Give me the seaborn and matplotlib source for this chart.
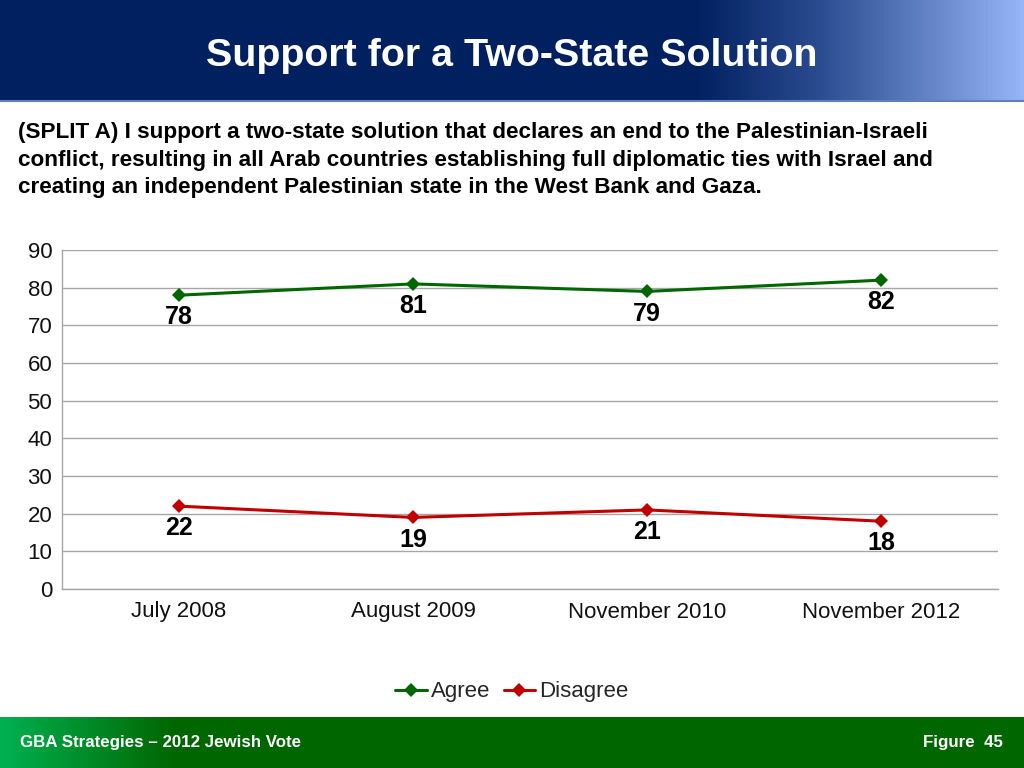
import numpy as np
import pandas as pd
import matplotlib
matplotlib.use("Agg")
import matplotlib.pyplot as plt
import seaborn as sns
from matplotlib.colors import LinearSegmentedColormap

categories = ["July 2008", "August 2009", "November 2010", "November 2012"]
agree = [78, 81, 79, 82]
disagree = [22, 19, 21, 18]
series_names = ["Agree", "Disagree"]
y_ticks = [0, 10, 20, 30, 40, 50, 60, 70, 80, 90]

title = "Support for a Two-State Solution"
subtitle = ("(SPLIT A) I support a two-state solution that declares an end to the Palestinian-Israeli\n"
            "conflict, resulting in all Arab countries establishing full diplomatic ties with Israel and\n"
            "creating an independent Palestinian state in the West Bank and Gaza.")
footer_left = "GBA Strategies \u2013 2012 Jewish Vote"
footer_right = "Figure  45"

df = pd.DataFrame({
    "cat": categories * 2,
    "x": list(range(len(categories))) * 2,
    "value": agree + disagree,
    "series": [series_names[0]] * len(agree) + [series_names[1]] * len(disagree),
})

sns.set_theme(style="white")
plt.rcParams["font.family"] = ["Liberation Sans", "DejaVu Sans"]

fig = plt.figure(figsize=(10.24, 7.68), dpi=100)

# header band with gradient
hdr = fig.add_axes([0, 1 - 100 / 768, 1, 100 / 768])
hdr.set_axis_off()
grad = np.linspace(0, 1, 512)[None, :]
cmap_h = LinearSegmentedColormap.from_list(
    "h", [(0, "#002060"), (0.68, "#002060"), (0.80, "#2a4b8f"), (1.0, "#96b4f8")])
hdr.imshow(grad, aspect="auto", cmap=cmap_h, extent=[0, 1, 0, 1])
hdr.set_xlim(0, 1); hdr.set_ylim(0, 1)
fig.text(0.5, 1 - 56 / 768, title, color="white", fontsize=28.4, fontweight="bold",
         ha="center", va="center")
fig.add_artist(plt.Line2D([0, 1], [1 - 101 / 768, 1 - 101 / 768], color="#5f7fbf", lw=1.5))

# footer band
ftr = fig.add_axes([0, 0, 1, 51 / 768])
ftr.set_axis_off()
cmap_f = LinearSegmentedColormap.from_list(
    "f", [(0, "#00b050"), (0.17, "#006600"), (1.0, "#006600")])
ftr.imshow(grad, aspect="auto", cmap=cmap_f, extent=[0, 1, 0, 1])
ftr.set_xlim(0, 1); ftr.set_ylim(0, 1)
fig.text(20 / 1024, 1 - 743 / 768, footer_left, color="white", fontsize=12.2,
         fontweight="bold", ha="left", va="center")
fig.text(1003 / 1024, 1 - 743 / 768, footer_right, color="white", fontsize=12.2,
         fontweight="bold", ha="right", va="center")

# subtitle
fig.text(18 / 1024, 1 - 122 / 768, subtitle, color="black", fontsize=16.2,
         fontweight="bold", ha="left", va="top", linespacing=1.42)

# main chart
ax = fig.add_axes([62 / 1024, 1 - 589 / 768, (998 - 62) / 1024, (589 - 250) / 768])
palette = {"Agree": "#006600", "Disagree": "#c00000"}
sns.lineplot(data=df, x="x", y="value", hue="series", palette=palette, marker="D",
             markersize=7, markeredgewidth=0, linewidth=2.2, ax=ax, legend=True)

ax.set_xlim(-0.5, len(categories) - 0.5)
ax.set_ylim(0, 90)
ax.set_yticks(y_ticks)
ax.set_xticks(range(len(categories)))
ax.set_xticklabels(categories)
ax.set_xlabel("")
ax.set_ylabel("")
ax.tick_params(axis="both", labelsize=16, colors="#111111", length=0, pad=6)
ax.tick_params(axis="x", pad=9)
ax.yaxis.grid(True, color="#a6a6a6", lw=1)
ax.xaxis.grid(False)
for s in ["top", "right"]:
    ax.spines[s].set_visible(False)
for s in ["left", "bottom"]:
    ax.spines[s].set_color("#a6a6a6")
    ax.spines[s].set_linewidth(1)

# minor ticks at category boundaries and y tick marks
ax.set_xticks(np.arange(-0.5, len(categories) + 0.5, 1), minor=True)
ax.tick_params(axis="x", which="minor", length=5, color="#a6a6a6", direction="out")
ax.tick_params(axis="y", which="major", length=5, color="#a6a6a6", direction="out", pad=2)

for i, v in enumerate(agree):
    ax.annotate(str(v), (i, v), xytext=(0, -16), textcoords="offset points",
                ha="center", va="center", fontsize=18, fontweight="bold", color="black")
for i, v in enumerate(disagree):
    ax.annotate(str(v), (i, v), xytext=(0, -16), textcoords="offset points",
                ha="center", va="center", fontsize=18, fontweight="bold", color="black")

handles, labels = ax.get_legend_handles_labels()
ax.legend(handles, labels, loc="center",
          bbox_to_anchor=((512 - 62) / (998 - 62), (692 - 589) / -(589 - 250)),
          ncol=2, frameon=False, fontsize=16, handlelength=1.4, handletextpad=0.2,
          columnspacing=0.6)

fig.savefig("out.png", dpi=100)
